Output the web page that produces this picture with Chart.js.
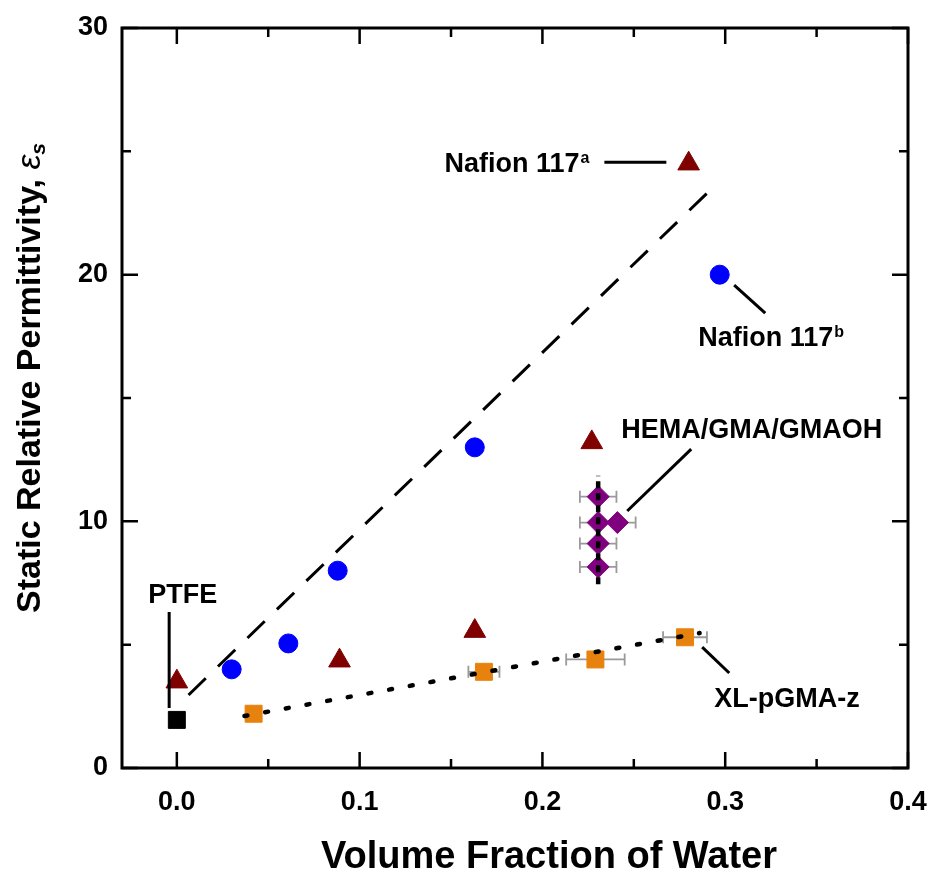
<!DOCTYPE html>
<html>
<head>
<meta charset="utf-8">
<script src="https://cdn.jsdelivr.net/npm/chart.js@4.4.1/dist/chart.umd.min.js"></script>
<style>
  html, body { margin: 0; padding: 0; background: #fff; }
</style>
</head>
<body>
<canvas id="c" width="935" height="875"></canvas>
<script>
// values: x = volume fraction of water, y = static relative permittivity
const xTickVals = [0.0, 0.1, 0.2, 0.3, 0.4];
const xTickLabels = ["0.0", "0.1", "0.2", "0.3", "0.4"];
const xMinorVals = [0.05, 0.15, 0.25, 0.35];
const yTickVals = [0, 10, 20, 30];
const yTickLabels = ["0", "10", "20", "30"];
const yMinorVals = [5, 15, 25];

const ptfeX = [0.0];
const ptfeY = [1.95];

const triX = [0.0, 0.089, 0.163, 0.227, 0.280];
const triY = [3.5, 4.35, 5.55, 13.2, 24.5];

const circX = [0.030, 0.061, 0.088, 0.163, 0.297];
const circY = [4.0, 5.05, 8.0, 13.0, 20.0];

const hemaX = [0.2305, 0.2305, 0.2305, 0.2305, 0.241];
const hemaY = [11.0, 9.95, 9.1, 8.15, 9.95];
const hemaXErr = [0.01, 0.01, 0.01, 0.01, 0.01];

const xlX = [0.042, 0.168, 0.229, 0.278];
const xlY = [2.2, 3.9, 4.4, 5.3];
const xlXErr = [0, 0.0085, 0.016, 0.012];

// guide lines drawn in the figure
const dashFitX = [0.0064, 0.2935];
const dashFitY = [2.96, 23.55];
const dotFitX = [0.037, 0.286];
const dotFitY = [2.11, 5.47];
const hemaGuideX = [0.2305, 0.2305];
const hemaGuideY = [7.45, 11.85];

// labels and their leader lines (data units)
const labelText = ["PTFE", "Nafion 117", "Nafion 117", "HEMA/GMA/GMAOH", "XL-pGMA-z"];
const labelSup = ["", "a", "b", "", ""];
const labelX = [-0.0156, 0.1464, 0.2852, 0.2431, 0.294];
const labelY = [6.69, 24.16, 17.1, 13.38, 2.47];
const leaderX = [[-0.0042, -0.0042], [0.2339, 0.2678], [0.3049, 0.3219], [0.2464, 0.2814], [0.2874, 0.3022]];
const leaderY = [[6.32, 2.43], [24.56, 24.56], [19.58, 18.44], [10.42, 12.93], [4.9, 3.85]];

const FONT = "'Liberation Sans', Arial, Helvetica, sans-serif";

function pts(xs, ys) {
  return xs.map((x, i) => ({ x, y: ys[i] }));
}

function guide(xs, ys, width, dash) {
  return {
    data: pts(xs, ys),
    showLine: true,
    borderColor: "#000",
    borderWidth: width,
    borderDash: dash,
    borderCapStyle: dash.length && dash[0] < 4 ? "round" : "butt",
    pointRadius: 0,
    pointHoverRadius: 0,
  };
}

function markers(xs, ys, style, radius, color) {
  return {
    data: pts(xs, ys),
    showLine: false,
    pointStyle: style,
    pointRadius: radius,
    pointHoverRadius: radius,
    pointBackgroundColor: color,
    pointBorderColor: color,
    pointBorderWidth: 1,
  };
}

const leaderSets = leaderX.map((lx, i) => guide(lx, leaderY[i], 3, []));

const errorBarPlugin = {
  id: "errorBars",
  beforeDatasetsDraw(chart) {
    const { ctx, scales: { x, y } } = chart;
    ctx.save();
    ctx.strokeStyle = "#9a9a9a";
    ctx.lineWidth = 1.8;
    const draw = (xs, ys, errs) => {
      xs.forEach((v, i) => {
        if (!errs[i]) return;
        const py = y.getPixelForValue(ys[i]);
        const x0 = x.getPixelForValue(v - errs[i]);
        const x1 = x.getPixelForValue(v + errs[i]);
        ctx.beginPath();
        ctx.moveTo(x0, py); ctx.lineTo(x1, py);
        ctx.moveTo(x0, py - 6); ctx.lineTo(x0, py + 6);
        ctx.moveTo(x1, py - 6); ctx.lineTo(x1, py + 6);
        ctx.stroke();
      });
    };
    draw(hemaX, hemaY, hemaXErr);
    draw(xlX, xlY, xlXErr);
    ctx.restore();
  },
};

const framePlugin = {
  id: "frame",
  afterDraw(chart) {
    const { ctx, chartArea: a, scales: { x, y } } = chart;
    ctx.save();
    ctx.strokeStyle = "#000";
    ctx.lineWidth = 2.5;
    ctx.beginPath();
    const tick = (px, py, dx, dy) => { ctx.moveTo(px, py); ctx.lineTo(px + dx, py + dy); };
    xTickVals.forEach(v => { const p = x.getPixelForValue(v); tick(p, a.bottom, 0, -16); tick(p, a.top, 0, 16); });
    xMinorVals.forEach(v => { const p = x.getPixelForValue(v); tick(p, a.bottom, 0, -9); tick(p, a.top, 0, 9); });
    yTickVals.forEach(v => { const p = y.getPixelForValue(v); tick(a.left, p, 16, 0); tick(a.right, p, -16, 0); });
    yMinorVals.forEach(v => { const p = y.getPixelForValue(v); tick(a.left, p, 9, 0); tick(a.right, p, -9, 0); });
    ctx.stroke();
    ctx.lineWidth = 3;
    ctx.strokeRect(a.left, a.top, a.right - a.left, a.bottom - a.top);

    // annotation labels
    ctx.fillStyle = "#000";
    ctx.textBaseline = "alphabetic";
    ctx.textAlign = "left";
    labelText.forEach((t, i) => {
      const px = x.getPixelForValue(labelX[i]);
      const py = y.getPixelForValue(labelY[i]);
      ctx.font = `bold 27px ${FONT}`;
      ctx.fillText(t, px, py);
      if (labelSup[i]) {
        const w = ctx.measureText(t).width;
        ctx.font = `bold 16px ${FONT}`;
        ctx.fillText(labelSup[i], px + w + 1, py - 9);
      }
    });

    // x axis title
    ctx.font = `bold 38px ${FONT}`;
    ctx.textAlign = "center";
    ctx.fillText("Volume Fraction of Water", 549, 868);

    // y axis title with italic epsilon and subscript s
    ctx.translate(31, 378);
    ctx.rotate(-Math.PI / 2);
    ctx.textAlign = "left";
    ctx.textBaseline = "middle";
    const main = "Static Relative Permittivity, ";
    ctx.font = `bold 34px ${FONT}`;
    const w1 = ctx.measureText(main).width;
    ctx.font = `italic 34px ${FONT}`;
    const w2 = ctx.measureText("\u03b5").width;
    ctx.font = `bold italic 21px ${FONT}`;
    const w3 = ctx.measureText("s").width;
    let cx = -(w1 + w2 + w3) / 2;
    ctx.font = `bold 34px ${FONT}`;
    ctx.fillText(main, cx, 0);
    cx += w1;
    ctx.font = `italic 34px ${FONT}`;
    ctx.fillText("\u03b5", cx, 0);
    cx += w2;
    ctx.font = `bold italic 21px ${FONT}`;
    ctx.fillText("s", cx, 8);
    ctx.restore();
  },
};

new Chart(document.getElementById("c"), {
  type: "scatter",
  data: {
    datasets: [
      guide(hemaGuideX, hemaGuideY, 4.5, [7, 5]),
      guide(dashFitX, dashFitY, 3, [24, 17]),
      guide(dotFitX, dotFitY, 4.5, [3, 18]),
      ...leaderSets,
      markers(hemaX.slice(4), hemaY.slice(4), "rectRot", 11, "#800080"),
      markers(hemaX.slice(0, 4), hemaY.slice(0, 4), "rectRot", 11, "#800080"),
      markers(ptfeX, ptfeY, "rect", 12, "#000"),
      markers(triX, triY, "triangle", 12.5, "#800000"),
      markers(circX, circY, "circle", 9.5, "#0000ff"),
      markers(xlX, xlY, "rect", 12, "#e8820e"),
    ],
  },
  options: {
    responsive: false,
    animation: false,
    layout: { padding: { top: 28, right: 27, left: 0, bottom: 0 } },
    plugins: { legend: { display: false }, tooltip: { enabled: false } },
    scales: {
      x: {
        type: "linear",
        min: -0.03,
        max: 0.4,
        afterBuildTicks(s) { s.ticks = xTickVals.map(v => ({ value: v })); },
        afterFit(s) { s.height = 107; s.paddingLeft = 0; s.paddingRight = 0; },
        grid: { display: false, drawTicks: false },
        border: { display: false },
        ticks: {
          padding: 18,
          color: "#000",
          font: { family: FONT, size: 27, weight: "bold" },
          maxRotation: 0,
          callback: (v) => xTickLabels[xTickVals.findIndex(t => Math.abs(t - v) < 1e-9)],
        },
      },
      y: {
        type: "linear",
        min: 0,
        max: 30,
        afterBuildTicks(s) { s.ticks = yTickVals.map(v => ({ value: v })); },
        afterFit(s) { s.width = 122; s.paddingTop = 0; s.paddingBottom = 0; },
        grid: { display: false, drawTicks: false },
        border: { display: false },
        ticks: {
          padding: 14,
          color: "#000",
          font: { family: FONT, size: 27, weight: "bold" },
          callback: (v) => yTickLabels[yTickVals.indexOf(v)],
        },
      },
    },
  },
  plugins: [errorBarPlugin, framePlugin],
});
</script>
</body>
</html>
